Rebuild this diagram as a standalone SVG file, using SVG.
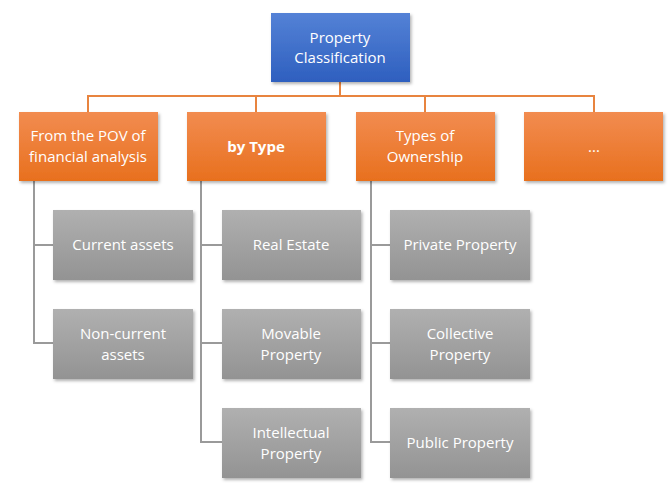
<svg xmlns="http://www.w3.org/2000/svg" width="669" height="486" viewBox="0 0 669 486">
<defs>
<linearGradient id="gb" x1="0" y1="0" x2="0" y2="1"><stop offset="0" stop-color="#5482d6"/><stop offset="1" stop-color="#2e5fbf"/></linearGradient>
<linearGradient id="go" x1="0" y1="0" x2="0" y2="1"><stop offset="0" stop-color="#f28c50"/><stop offset="1" stop-color="#e8701e"/></linearGradient>
<linearGradient id="gg" x1="0" y1="0" x2="0" y2="1"><stop offset="0" stop-color="#b0b0b0"/><stop offset="1" stop-color="#939393"/></linearGradient>
<filter id="sh" x="-10%" y="-10%" width="130%" height="130%"><feDropShadow dx="1.5" dy="2" stdDeviation="1.5" flood-color="#000" flood-opacity="0.3"/></filter>
</defs>
<style>
text{font-family:"Open Sans","Liberation Sans",sans-serif;font-size:15px;fill:#fff;text-anchor:middle}
.b{fill:url(#gb);filter:url(#sh)}.o{fill:url(#go);filter:url(#sh)}.g{fill:url(#gg);filter:url(#sh)}
.lo{stroke:#e8843f;stroke-width:2;fill:none}.lg{stroke:#9a9a9a;stroke-width:2;fill:none}
</style>
<rect width="669" height="486" fill="#fff"/>
<g id="connectors">
<path class="lo" d="M340 82V96M88 112V96H594V112M256 96V112M425 96V112"/>
<path class="lg" d="M34 181V343H53M34 245H53"/>
<path class="lg" d="M201 181V442H222M201 245H222M201 343H222"/>
<path class="lg" d="M371 181V442H390M371 245H390M371 343H390"/>
</g>
<g id="root"><rect class="b" x="271" y="13" width="139" height="69"/><text x="340" y="43">Property</text><text x="340" y="63">Classification</text></g>
<g id="pov"><rect class="o" x="19" y="112" width="139" height="69"/><text x="88" y="141">From the POV of</text><text x="88" y="162">financial analysis</text></g>
<g id="type"><rect class="o" x="187" y="112" width="139" height="69"/><text x="256" y="152" font-weight="bold">by Type</text></g>
<g id="own"><rect class="o" x="356" y="112" width="139" height="69"/><text x="425" y="141">Types of</text><text x="425" y="162">Ownership</text></g>
<g id="more"><rect class="o" x="524" y="112" width="139" height="69"/><text x="594" y="152">...</text></g>
<g id="current"><rect class="g" x="53" y="210" width="140" height="70"/><text x="123" y="250">Current assets</text></g>
<g id="noncurrent"><rect class="g" x="53" y="309" width="140" height="70"/><text x="123" y="339">Non-current</text><text x="123" y="360">assets</text></g>
<g id="real"><rect class="g" x="222" y="210" width="139" height="70"/><text x="291" y="250">Real Estate</text></g>
<g id="movable"><rect class="g" x="222" y="309" width="139" height="70"/><text x="291" y="339">Movable</text><text x="291" y="360">Property</text></g>
<g id="intel"><rect class="g" x="222" y="408" width="139" height="70"/><text x="291" y="438">Intellectual</text><text x="291" y="459">Property</text></g>
<g id="private"><rect class="g" x="390" y="210" width="140" height="70"/><text x="460" y="250">Private Property</text></g>
<g id="collective"><rect class="g" x="390" y="309" width="140" height="70"/><text x="460" y="339">Collective</text><text x="460" y="360">Property</text></g>
<g id="public"><rect class="g" x="390" y="408" width="140" height="70"/><text x="460" y="448">Public Property</text></g>
</svg>
